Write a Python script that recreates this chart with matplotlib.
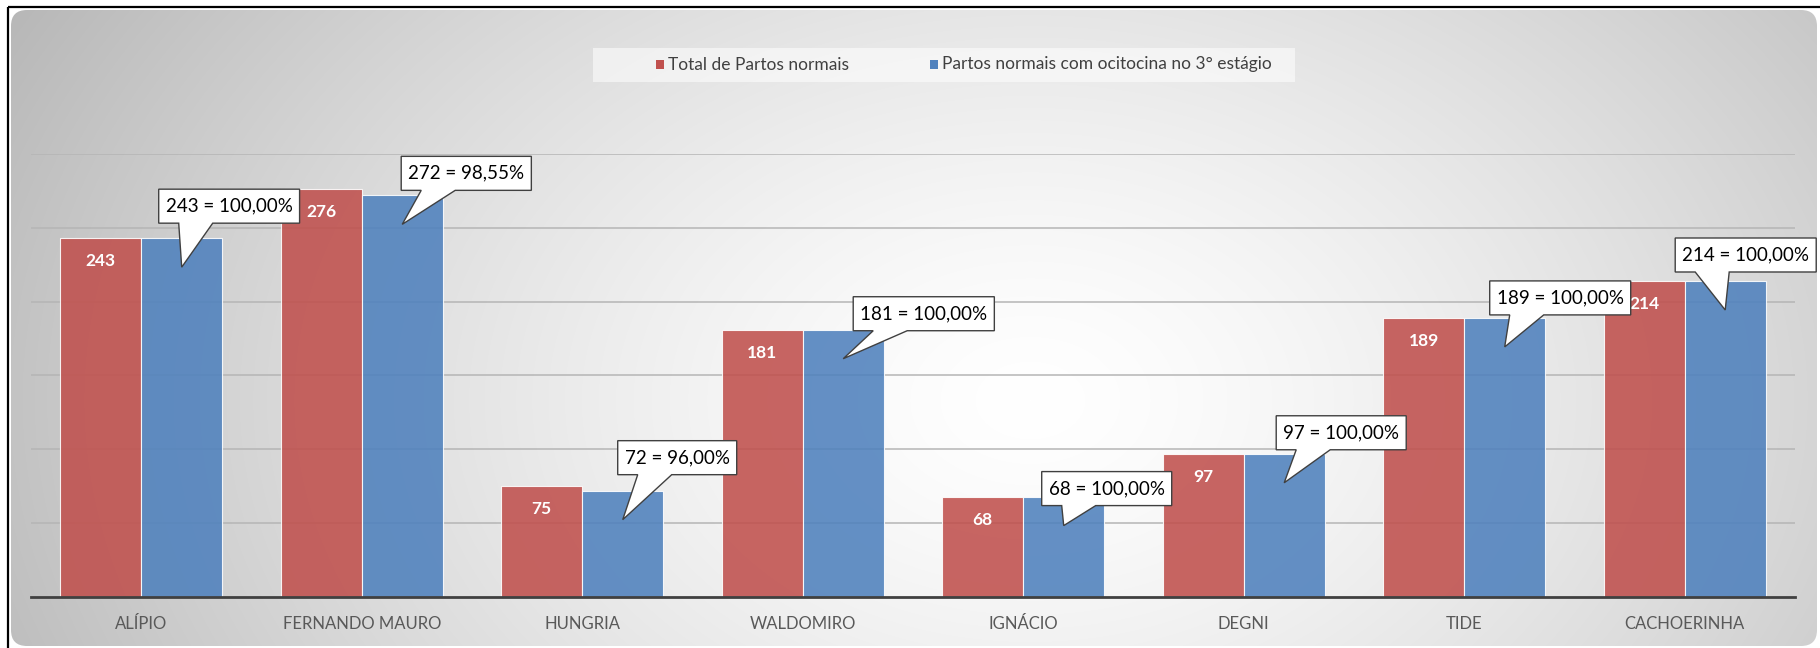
import numpy as np
import matplotlib
matplotlib.use("Agg")
import matplotlib.pyplot as plt
from matplotlib.patches import FancyBboxPatch, Rectangle, Polygon
from matplotlib.transforms import Affine2D, ScaledTranslation, offset_copy

# dane
postos = ['ALÍPIO', 'FERNANDO MAURO', 'HUNGRIA', 'WALDOMIRO', 'IGNÁCIO', 'DEGNI', 'TIDE', 'CACHOERINHA']
total_partos = [243, 276, 75, 181, 68, 97, 189, 214]
com_ocitocina = [243, 272, 72, 181, 68, 97, 189, 214]
serie_nomes = ['Total de Partos normais', 'Partos normais com ocitocina no 3° estágio']

# posição das caixinhas (px, relativo ao topo da barra azul)
caixa_dx = [-23, -1, -5, 10, -22, -8, -15, -50]
caixa_dy = [15, 5, 16, -1, -9, 4, 3, 9]

W, H = 1820, 648
plt.rcParams['font.family'] = ['Lato', 'DejaVu Sans']

fig = plt.figure(figsize=(W / 100, H / 100), dpi=100)
fig.patch.set_facecolor('white')

# fundo com gradiente radial
bg = fig.add_axes([0, 0, 1, 1])
bg.set_xlim(0, W)
bg.set_ylim(H, 0)
bg.axis('off')
yy, xx = np.mgrid[0:H, 0:W]
t = np.sqrt(((xx - 1030) / 1020.0) ** 2 + ((yy - 400) / 720.0) ** 2)
val = (255 - 60 * np.clip(t, 0, 1.2) ** 1.4) / 255.0
img = np.dstack([val, val, val])
im = bg.imshow(img, extent=(0, W, H, 0), interpolation='bilinear')
moldura = FancyBboxPatch((11, 10), 1806, 636, boxstyle='round,pad=0,rounding_size=16',
                         transform=bg.transData, facecolor='none', edgecolor='none')
bg.add_patch(moldura)
im.set_clip_path(moldura)
bg.plot([8, 8], [H, 7], color='black', lw=1.6, solid_capstyle='butt')
bg.plot([8, W], [7, 7], color='black', lw=1.6, solid_capstyle='butt')

# legenda
bg.add_patch(Rectangle((593, 48), 702, 34, facecolor='white', alpha=0.55, edgecolor='none'))
bg.add_patch(Rectangle((656, 60), 8, 9, facecolor='#C0504D', edgecolor='none'))
bg.text(668, 64.5, serie_nomes[0], fontsize=12.5, color='#404040', va='center', ha='left')
bg.add_patch(Rectangle((930, 60), 8, 9, facecolor='#4F81BD', edgecolor='none'))
bg.text(942, 64.5, serie_nomes[1], fontsize=12.5, color='#404040', va='center', ha='left')

# gráfico principal
ax = fig.add_axes([31 / W, (H - 597) / H, 1764 / W, 443 / H])
ax.patch.set_alpha(0)
ax.set_xlim(-0.5, 7.5)
ax.set_ylim(0, 300)

x = np.arange(len(postos))
larg = 0.367
ax.bar(x - larg / 2, total_partos, larg, color='#C0504D', alpha=0.88,
       edgecolor=(1, 1, 1, 0.6), linewidth=0.8, zorder=2)
ax.bar(x + larg / 2, com_ocitocina, larg, color='#4F81BD', alpha=0.88,
       edgecolor=(1, 1, 1, 0.6), linewidth=0.8, zorder=2)

ax.set_yticks(np.arange(50, 301, 50))
ax.yaxis.grid(True, color='#B5B5B5', lw=1.1)
ax.set_axisbelow(True)
ax.tick_params(axis='y', left=False, labelleft=False)
ax.set_xticks(x)
ax.set_xticklabels(postos, fontsize=12, color='#595959')
ax.tick_params(axis='x', length=0, pad=14)
for s in ['top', 'left', 'right']:
    ax.spines[s].set_visible(False)
ax.spines['bottom'].set_color('#404040')
ax.spines['bottom'].set_linewidth(2)

# rótulos brancos nas barras vermelhas
for i, v in enumerate(total_partos):
    ax.text(x[i] - larg / 2, v, str(v), color='white', fontsize=12.5, fontweight='bold',
            ha='center', va='center', zorder=4,
            transform=offset_copy(ax.transData, fig, x=0, y=-23, units='dots'))

# caixinhas com balão nas barras azuis
fig.canvas.draw()
rend = fig.canvas.get_renderer()
for i, (c, tot) in enumerate(zip(com_ocitocina, total_partos)):
    txt = f'{c} = {c / tot * 100:.2f}%'.replace('.', ',')
    xc = x[i] + larg / 2
    tmp = ax.text(0, 0, txt, fontsize=13.5)
    w = tmp.get_window_extent(rend).width + 14
    tmp.remove()
    l, b = caixa_dx[i], caixa_dy[i]
    h = 34
    verts = [(l, b), (l + 20, b), (0, -29), (l + 54, b), (l + w, b),
             (l + w, b + h), (l, b + h)]
    tr = Affine2D() + ScaledTranslation(xc, c, ax.transData)
    ax.add_patch(Polygon(verts, closed=True, facecolor='white', edgecolor='#404040',
                         lw=1.0, transform=tr, clip_on=False, zorder=5))
    ax.text(xc, c, txt, fontsize=13.5, color='black', ha='center', va='center', zorder=6,
            transform=offset_copy(ax.transData, fig, x=l + w / 2, y=b + h / 2, units='dots'),
            clip_on=False)

fig.savefig('out.png', dpi=100)
